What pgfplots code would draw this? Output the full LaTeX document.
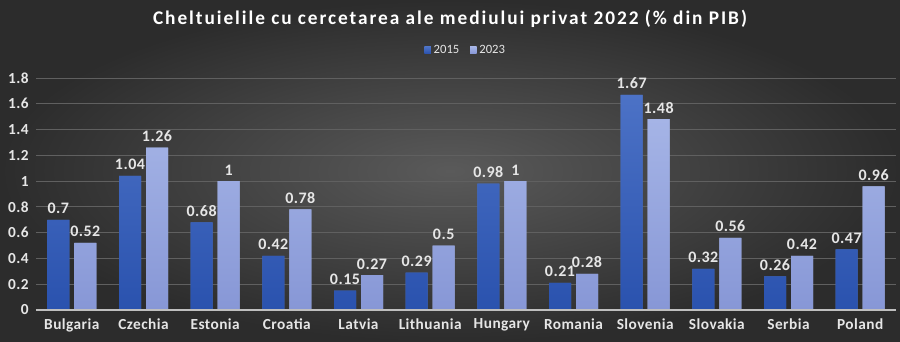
\documentclass[border=0pt]{standalone}
\usepackage{pgfplots}
\pgfplotsset{compat=1.18}
\usepackage{fontspec}
\setmainfont{Carlito}
\newfontfamily\titlefont[LetterSpace=10]{Carlito}
\newfontfamily\labfont[LetterSpace=3]{Carlito}
\definecolor{bgin}{HTML}{5A5A5A}
\definecolor{bgout}{HTML}{2C2C2C}
\definecolor{txt}{HTML}{E6E6E6}
\definecolor{gridc}{HTML}{606060}
\definecolor{axc}{HTML}{BFBFBF}
\definecolor{aTop}{HTML}{4C72C6}
\definecolor{aBot}{HTML}{2A52AE}
\definecolor{bTop}{HTML}{A5B4E6}
\definecolor{bBot}{HTML}{8797D6}
\begin{document}
\begin{tikzpicture}
\shade[inner color=bgin, outer color=bgout] (0pt,0pt) rectangle (675pt,256.5pt);
\node[text=white, font=\titlefont\bfseries\fontsize{14.5}{16}\selectfont] at (337.5pt,242pt) {Cheltuielile cu cercetarea ale mediului privat 2022 (\% din PIB)};
\begin{axis}[
  at={(27pt,24pt)}, anchor=south west,
  scale only axis, width=645pt, height=174pt,
  xmin=-0.5, xmax=11.5, ymin=0, ymax=1.8,
  ytick={0,0.2,...,1.8},
  xtick={0,...,11},
  xticklabels={Bulgaria,Czechia,Estonia,Croatia,Latvia,Lithuania,Hungary,Romania,Slovenia,Slovakia,Serbia,Poland},
  ybar=3.75pt, bar width=16.5pt,
  axis line style={draw=none},
  axis x line*=bottom,
  major tick length=0pt,
  ymajorgrids, grid style={gridc, line width=0.6pt},
  tick label style={text=txt, font=\labfont\bfseries\fontsize{11.5}{13}\selectfont},
  yticklabel style={/pgf/number format/fixed, /pgf/number format/precision=1, xshift=-2pt},
  /pgf/number format/assume math mode=true,
  xticklabel style={yshift=-3pt},
  nodes near coords,
  nodes near coords style={text=txt, font=\labfont\bfseries\fontsize{12}{13}\selectfont, yshift=1pt, /pgf/number format/fixed, /pgf/number format/precision=2, /pgf/number format/assume math mode=true},
  legend style={at={(0.5,1.12)}, anchor=center, draw=none, fill=none, text=txt, font=\fontsize{9.5}{11}\selectfont, legend columns=2, /tikz/every even column/.append style={column sep=6pt}},
  legend image code/.code={\fill[#1] (0pt,-2.5pt) rectangle (5pt,2.5pt);},
  clip=false,
]
\addplot[draw=none, top color=aTop, bottom color=aBot, fill=aTop] coordinates {(0,0.7) (1,1.04) (2,0.68) (3,0.42) (4,0.15) (5,0.29) (6,0.98) (7,0.21) (8,1.67) (9,0.32) (10,0.26) (11,0.47)};
\addplot[draw=none, top color=bTop, bottom color=bBot, fill=bTop] coordinates {(0,0.52) (1,1.26) (2,1) (3,0.78) (4,0.27) (5,0.5) (6,1) (7,0.28) (8,1.48) (9,0.56) (10,0.42) (11,0.96)};
\legend{2015,2023}
\draw[axc, line width=0.8pt] (axis cs:-0.5,0) -- (axis cs:11.5,0);
\end{axis}
\end{tikzpicture}
\end{document}
